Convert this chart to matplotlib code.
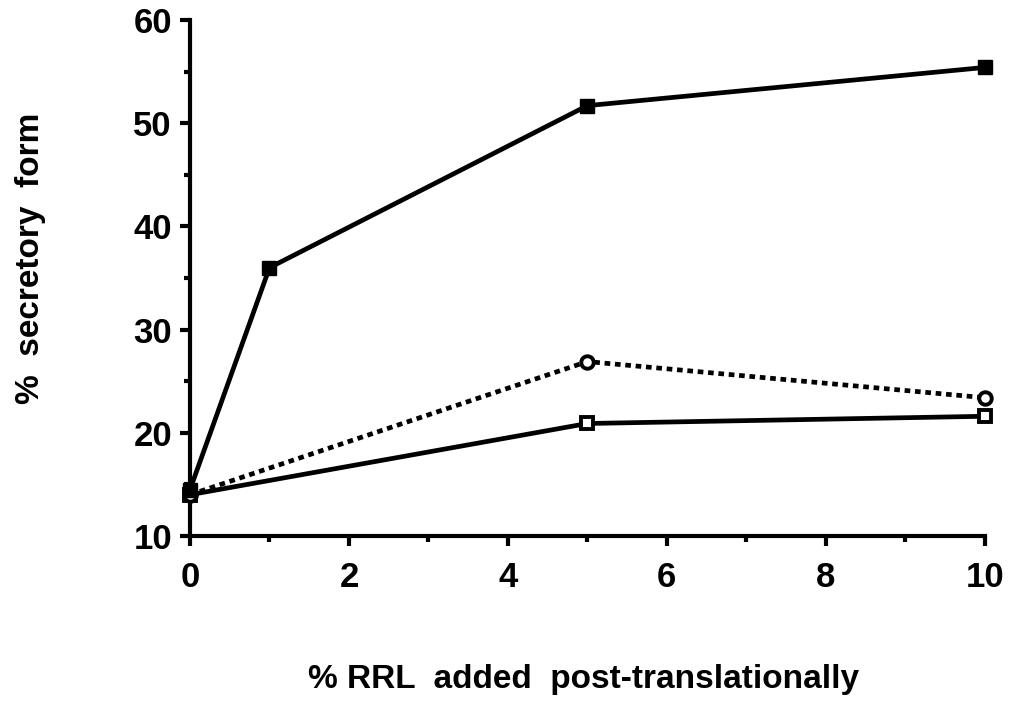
import matplotlib
matplotlib.use("Agg")
import matplotlib.pyplot as plt
from matplotlib.ticker import MultipleLocator

plt.rcParams['font.family'] = ['Liberation Sans', 'DejaVu Sans']

x_filled = [0, 1, 5, 10]
y_filled = [14.5, 36.0, 51.7, 55.4]
x_circle = [0, 5, 10]
y_circle = [14.0, 26.9, 23.4]
x_open = [0, 5, 10]
y_open = [14.0, 20.9, 21.6]

fig = plt.figure(figsize=(10.13, 7.01), dpi=100)
ax = fig.add_axes([0.1876, 0.2354, 0.7844, 0.7361])

ax.plot(x_open, y_open, '-', color='black', lw=3.4, marker='s', ms=9,
        mfc='white', mec='black', mew=2.8, zorder=3, clip_on=False)
ax.plot(x_circle, y_circle, ':', color='black', lw=3.4, marker='o', ms=9,
        mfc='white', mec='black', mew=2.8, zorder=3, dashes=(1.2, 1.0),
        clip_on=False)
ax.plot(x_filled, y_filled, '-', color='black', lw=3.4, marker='s', ms=10,
        mfc='black', mec='black', zorder=4, clip_on=False)

ax.set_xlim(0, 10)
ax.set_ylim(10, 60)
ax.xaxis.set_major_locator(MultipleLocator(2))
ax.xaxis.set_minor_locator(MultipleLocator(1))
ax.yaxis.set_major_locator(MultipleLocator(10))
ax.yaxis.set_minor_locator(MultipleLocator(5))

for s in ['top', 'right']:
    ax.spines[s].set_visible(False)
for s in ['left', 'bottom']:
    ax.spines[s].set_linewidth(3)

ax.tick_params(which='major', direction='out', length=7, width=3,
               labelsize=25)
ax.tick_params(axis='x', which='major', pad=11)
ax.tick_params(axis='y', which='major', pad=6)
ax.tick_params(which='minor', direction='out', length=4, width=3)
for lab in ax.get_xticklabels() + ax.get_yticklabels():
    lab.set_fontweight('bold')

ax.set_xlabel('% RRL  added  post-translationally', fontsize=24,
              fontweight='bold')
ax.set_ylabel('%  secretory  form', fontsize=24, fontweight='bold')
ax.xaxis.set_label_coords(0.495, -0.279)
ax.yaxis.set_label_coords(-0.201, 0.539)
ax.xaxis.label.set_va('center')
ax.yaxis.label.set_va('center')

fig.savefig('out.png', dpi=100)
